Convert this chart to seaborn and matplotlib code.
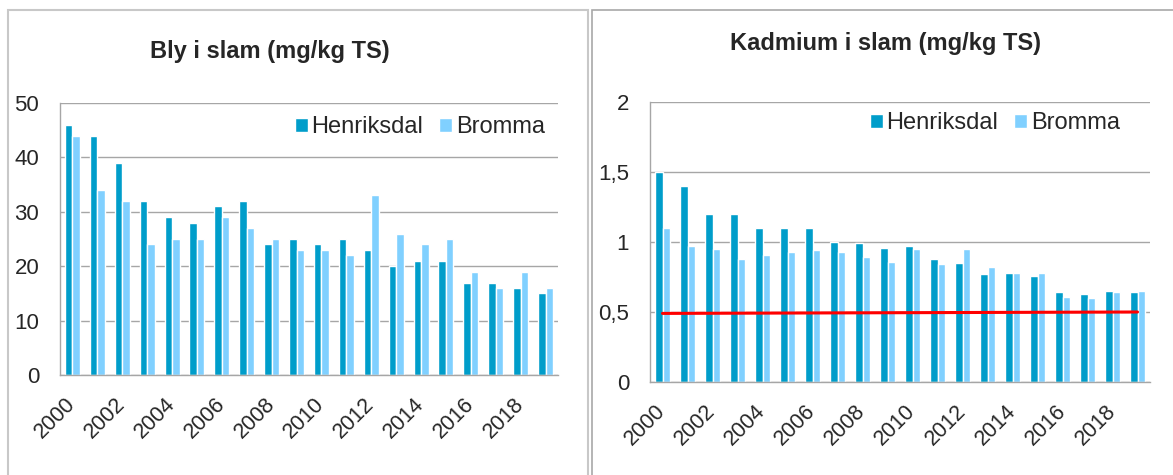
import numpy as np
import pandas as pd
import matplotlib.pyplot as plt
import seaborn as sns
from matplotlib.patches import Rectangle
from matplotlib.ticker import FuncFormatter
from matplotlib.transforms import ScaledTranslation

years = list(range(2000, 2020))
bly_henriksdal = [46, 44, 39, 32, 29, 28, 31, 32, 24, 25, 24, 25, 23, 20, 21, 21, 17, 17, 16, 15]
bly_bromma = [44, 34, 32, 24, 25, 25, 29, 27, 25, 23, 23, 22, 33, 26, 24, 25, 19, 16, 19, 16]
kadmium_henriksdal = [1.5, 1.4, 1.2, 1.2, 1.1, 1.1, 1.1, 1.0, 0.99, 0.96,
                      0.97, 0.88, 0.85, 0.77, 0.78, 0.76, 0.64, 0.63, 0.65, 0.64]
kadmium_bromma = [1.1, 0.97, 0.95, 0.88, 0.91, 0.93, 0.94, 0.93, 0.89, 0.86,
                  0.95, 0.84, 0.95, 0.82, 0.78, 0.78, 0.61, 0.60, 0.64, 0.65]
limit_years = [2000, 2019]
kadmium_limit = [0.49, 0.50]
year_labels = [str(y) for y in years[::2]]

W, H = 1173, 475
sns.set_theme(style="white")
plt.rcParams['font.family'] = ['Liberation Sans', 'DejaVu Sans']

palette = {"Henriksdal": "#009DCA", "Bromma": "#80D0FF"}


def long_df(h, b):
    return pd.DataFrame({
        "År": [str(y) for y in years] * 2,
        "Värde": h + b,
        "Anläggning": ["Henriksdal"] * len(years) + ["Bromma"] * len(years),
    })


fig = plt.figure(figsize=(W / 100, H / 100), dpi=100)
ax1 = fig.add_axes([60 / W, 1 - 375 / H, (558 - 60) / W, (375 - 103) / H])
ax2 = fig.add_axes([650 / W, 1 - 382 / H, (1150 - 650) / W, (382 - 102) / H])

# panel frames (Excel chart areas)
fig.add_artist(Rectangle((8 / W, -0.1), (588 - 8) / W, 1.1 - 10 / H,
                         transform=fig.transFigure, fill=False, ec="#C8C8C8", lw=1.5))
fig.add_artist(Rectangle((592 / W, -0.1), 1.0, 1.1 - 10 / H,
                         transform=fig.transFigure, fill=False, ec="#A8A8A8", lw=1.2))

shift = ScaledTranslation(-11 / 100, 0, fig.dpi_scale_trans)

for ax, h, b, ymax, step in [(ax1, bly_henriksdal, bly_bromma, 50, 10),
                             (ax2, kadmium_henriksdal, kadmium_bromma, 2, 0.5)]:
    sns.barplot(data=long_df(h, b), x="År", y="Värde", hue="Anläggning",
                palette=palette, saturation=1, width=0.6, ax=ax)
    ax.set_xlim(-0.5, len(years) - 0.5)
    ax.set_ylim(0, ymax)
    ax.set_yticks(np.arange(0, ymax + step / 2, step))
    ax.yaxis.grid(True, color="#A6A6A6", lw=1)
    ax.set_axisbelow(True)
    for s in ["top", "right"]:
        ax.spines[s].set_visible(False)
    for s in ["left", "bottom"]:
        ax.spines[s].set_color("#A6A6A6")
        ax.spines[s].set_linewidth(1)
    ax.set_xticks(range(0, len(years), 2))
    ax.set_xticklabels(year_labels, rotation=45, ha="right", va="center",
                       rotation_mode="anchor", fontsize=15.5)
    for lab in ax.get_xticklabels():
        lab.set_transform(lab.get_transform() + shift)
    ax.tick_params(axis="x", length=0, pad=19)
    ax.tick_params(axis="y", length=0, pad=15, labelsize=16)
    ax.set_xlabel("")
    ax.set_ylabel("")
    ax.get_legend().remove()

ax2.yaxis.set_major_formatter(FuncFormatter(lambda v, p: f"{v:g}".replace(".", ",")))
ax2.plot([years.index(y) for y in limit_years], kadmium_limit, color="red", lw=2.2)

handles, labels = ax1.get_legend_handles_labels()
for ax, xr, yc in [(ax1, 545, 127), (ax2, 1120, 123)]:
    ax.legend(handles, labels, ncol=2, frameon=False, loc="center right",
              bbox_to_anchor=(xr / W, 1 - yc / H), bbox_transform=fig.transFigure,
              borderaxespad=0, borderpad=0, fontsize=17, handlelength=0.55,
              handleheight=0.55, handletextpad=0.15, columnspacing=0.7)

fig.text(270 / W, 1 - 51.5 / H, "Bly i slam (mg/kg TS)", ha="center", va="center",
         fontsize=17, fontweight="bold")
fig.text(886 / W, 1 - 43.5 / H, "Kadmium i slam (mg/kg TS)", ha="center", va="center",
         fontsize=17, fontweight="bold")

fig.savefig("out.png", dpi=100)
